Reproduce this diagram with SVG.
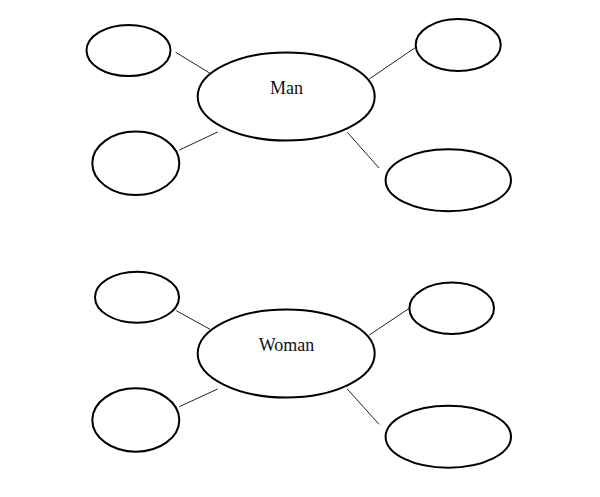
<svg xmlns="http://www.w3.org/2000/svg" width="600" height="497" viewBox="0 0 600 497">
<style>
.n{fill:#fff;stroke:#000;stroke-width:2}
.c{stroke:#222;stroke-width:1;fill:none}
.t{font-family:"Liberation Serif","Times New Roman",serif;font-size:18px;fill:#111;text-anchor:middle}
</style>
<rect width="600" height="497" fill="#fff"/>
<g id="connectors">
<line class="c" x1="175.7" y1="52.3" x2="210" y2="73.3"/>
<line class="c" x1="369.3" y1="79" x2="415.7" y2="47.3"/>
<line class="c" x1="179.3" y1="150" x2="217.7" y2="132"/>
<line class="c" x1="347.3" y1="132.3" x2="379" y2="168"/>
<line class="c" x1="176.3" y1="310.7" x2="210" y2="329.3"/>
<line class="c" x1="369.3" y1="335" x2="409.3" y2="308.3"/>
<line class="c" x1="179.3" y1="406.7" x2="217.7" y2="389"/>
<line class="c" x1="347.3" y1="389" x2="379" y2="424.3"/>
</g>
<g id="man"><ellipse class="n" cx="286.2" cy="96.5" rx="88.5" ry="44"/><text class="t" x="286.5" y="93.5">Man</text></g>
<g id="man-tl"><ellipse class="n" cx="128.5" cy="50.5" rx="42" ry="25.5"/></g>
<g id="man-tr"><ellipse class="n" cx="458.2" cy="45" rx="42.5" ry="26"/></g>
<g id="man-bl"><ellipse class="n" cx="135.8" cy="163.3" rx="43.5" ry="31.7"/></g>
<g id="man-br"><ellipse class="n" cx="448.3" cy="180.2" rx="62.7" ry="31"/></g>
<g id="woman"><ellipse class="n" cx="286.2" cy="353.5" rx="88.5" ry="44"/><text class="t" x="286.5" y="350.7">Woman</text></g>
<g id="woman-tl"><ellipse class="n" cx="137" cy="297.2" rx="42" ry="25.5"/></g>
<g id="woman-tr"><ellipse class="n" cx="451.7" cy="308.3" rx="42.3" ry="25.7"/></g>
<g id="woman-bl"><ellipse class="n" cx="135.8" cy="420" rx="43.5" ry="31.7"/></g>
<g id="woman-br"><ellipse class="n" cx="448.3" cy="436.7" rx="62.7" ry="31"/></g>
</svg>
